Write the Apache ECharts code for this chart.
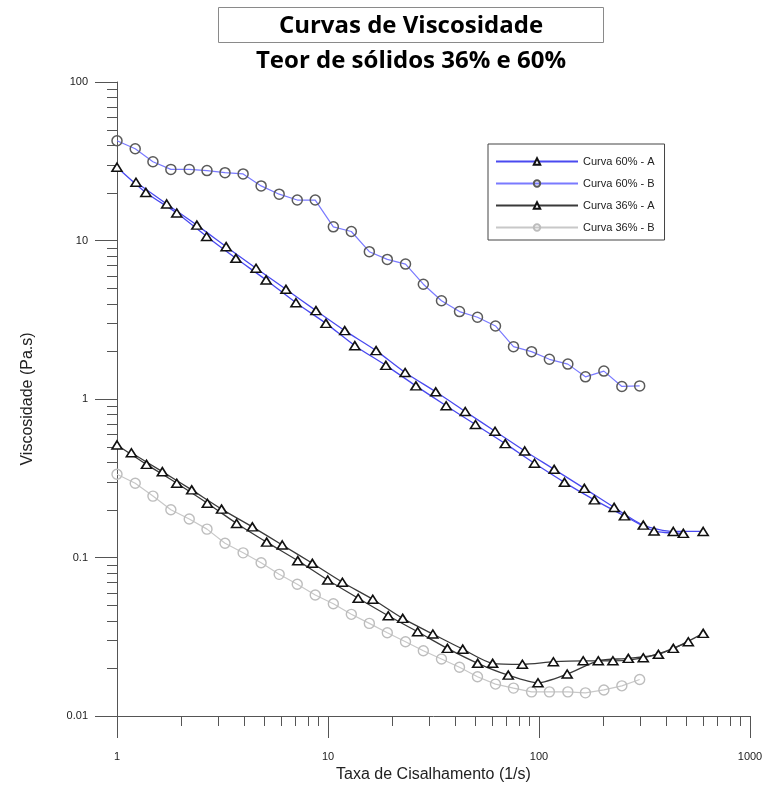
<!DOCTYPE html>
<html>
<head>
<meta charset="utf-8">
<script src="https://cdn.jsdelivr.net/npm/echarts@6/dist/echarts.min.js"></script>
<style>
html,body{margin:0;padding:0;background:#fff;}
#chart{width:768px;height:789px;}
</style>
</head>
<body>
<div id="chart"></div>
<script>
// ---------------- data ----------------
const titleMain = 'Curvas de Viscosidade';
const titleSub = 'Teor de sólidos 36% e 60%';
const xAxisName = 'Taxa de Cisalhamento (1/s)';
const yAxisName = 'Viscosidade (Pa.s)';
const seriesNames = ['Curva 60% - A', 'Curva 60% - B', 'Curva 36% - A', 'Curva 36% - B'];

const xTickLabels = ['1', '10', '100', '1000'];
const yTickLabels = ['0.01', '0.1', '1', '10', '100'];
const xMinorTicks = [2,3,4,5,6,7,8,9,20,30,40,50,60,70,80,90,200,300,400,500,600,700,800,900];
const yMinorTicks = [0.02,0.03,0.04,0.05,0.06,0.07,0.08,0.09,0.2,0.3,0.4,0.5,0.6,0.7,0.8,0.9,2,3,4,5,6,7,8,9,20,30,40,50,60,70,80,90];

// Curva 60% - A (two ramps)
const rate60A_1 = [1, 1.37, 1.92, 2.66, 3.66, 5.09, 7.05, 9.78, 13.4, 18.8, 26.1, 36.3, 50.0, 69.2, 95.2, 132, 183, 254, 351, 483];
const visc60A_1 = [29.0, 20.1, 14.9, 10.6, 7.72, 5.64, 4.05, 3.00, 2.17, 1.63, 1.21, 0.906, 0.690, 0.523, 0.393, 0.298, 0.231, 0.183, 0.147, 0.142];
const rate60A_2 = [1.23, 1.72, 2.39, 3.29, 4.56, 6.32, 8.77, 12.0, 16.9, 23.2, 32.4, 44.7, 61.9, 85.6, 118, 164, 227, 312, 433, 600];
const visc60A_2 = [23.3, 17.0, 12.5, 9.14, 6.68, 4.92, 3.61, 2.70, 2.02, 1.47, 1.11, 0.834, 0.626, 0.470, 0.360, 0.273, 0.207, 0.160, 0.146, 0.146];

// Curva 60% - B and 36% - B (same shear rates)
const rateB = [1, 1.22, 1.48, 1.80, 2.20, 2.67, 3.25, 3.96, 4.82, 5.87, 7.15, 8.70, 10.6, 12.9, 15.7, 19.1, 23.3, 28.3, 34.5, 42.0, 51.1, 62.2, 75.7, 92.2, 112, 137, 166, 203, 247, 300];
const visc60B = [42.6, 37.9, 31.4, 28.1, 28.1, 27.6, 26.8, 26.3, 22.1, 19.6, 18.0, 18.0, 12.2, 11.4, 8.5, 7.6, 7.1, 5.3, 4.17, 3.56, 3.28, 2.89, 2.14, 1.99, 1.78, 1.66, 1.38, 1.50, 1.20, 1.21];
const visc36B = [0.335, 0.294, 0.244, 0.200, 0.175, 0.151, 0.123, 0.107, 0.0927, 0.0783, 0.0678, 0.058, 0.0511, 0.0438, 0.0384, 0.0335, 0.0294, 0.0258, 0.0229, 0.0203, 0.0177, 0.0159, 0.0150, 0.0142, 0.0142, 0.0142, 0.0140, 0.0146, 0.0155, 0.0170];

// Curva 36% - A (two ramps)
const rate36A_1 = [1, 1.38, 1.92, 2.68, 3.69, 5.12, 7.19, 9.97, 13.9, 19.3, 26.6, 36.8, 51.2, 71.5, 98.9, 136, 191, 265, 368, 510];
const visc36A_1 = [0.513, 0.387, 0.294, 0.220, 0.164, 0.125, 0.0955, 0.0721, 0.0553, 0.0429, 0.0340, 0.0267, 0.0215, 0.0181, 0.0162, 0.0184, 0.0223, 0.0231, 0.0245, 0.0294];
const rate36A_2 = [1.17, 1.64, 2.26, 3.13, 4.38, 6.07, 8.43, 11.7, 16.3, 22.6, 31.4, 43.5, 60.3, 83.4, 117, 162, 224, 312, 433, 600];
const visc36A_2 = [0.458, 0.348, 0.267, 0.202, 0.156, 0.120, 0.0919, 0.0698, 0.0545, 0.0413, 0.0329, 0.0264, 0.0215, 0.0212, 0.0220, 0.0223, 0.0223, 0.0233, 0.0267, 0.0332];

// ---------------- chart ----------------
const zip = (xs, ys) => xs.map((x, i) => [x, ys[i]]);
const X_MIN = 1, X_MAX = 1000, Y_MIN = 0.01, Y_MAX = 100;
const FONT = '"Liberation Sans", Arial, sans-serif';

const triStyleA60 = {
  type: 'line', symbol: 'triangle', symbolSize: [10, 8], smooth: 0.25,
  lineStyle: { color: '#4a4af0', width: 1.3 },
  itemStyle: { color: '#ffffff', borderColor: '#111', borderWidth: 1.6 },
  z: 4
};
const triStyleA36 = {
  type: 'line', symbol: 'triangle', symbolSize: [10, 8], smooth: 0.25,
  lineStyle: { color: '#3a3a3a', width: 1.3 },
  itemStyle: { color: '#ffffff', borderColor: '#111', borderWidth: 1.6 },
  z: 4
};

const chart = echarts.init(document.getElementById('chart'), null, { renderer: 'canvas' });
chart.setOption({
  backgroundColor: '#ffffff',
  animation: false,
  grid: { left: 117, right: 18, top: 82, bottom: 73, containLabel: false },
  graphic: [
    { type: 'rect', shape: { x: 218.5, y: 7.5, width: 385, height: 35 }, style: { fill: '#fff', stroke: '#8a8a8a', lineWidth: 1 }, z: 10 },
    { type: 'text', x: 411, y: 26, style: { text: titleMain, textAlign: 'center', textVerticalAlign: 'middle', font: 'bold 24px "Open Sans", sans-serif', fill: '#000' }, z: 11 },
    { type: 'text', x: 411, y: 61, style: { text: titleSub, textAlign: 'center', textVerticalAlign: 'middle', font: 'bold 24px "Open Sans", sans-serif', fill: '#000' }, z: 11 }
  ],
  legend: {
    data: seriesNames,
    orient: 'vertical',
    left: 488, top: 144,
    padding: [12, 10, 7, 7],
    itemWidth: 82, itemHeight: 8, itemGap: 11,
    borderColor: '#444', borderWidth: 1,
    backgroundColor: '#fff',
    textStyle: { fontFamily: FONT, fontSize: 11, color: '#222' }
  },
  xAxis: {
    type: 'log', logBase: 10, min: X_MIN, max: X_MAX,
    name: xAxisName, nameLocation: 'middle', nameGap: 51,
    nameTextStyle: { fontFamily: FONT, fontSize: 16, color: '#222' },
    axisLine: { show: true, lineStyle: { color: '#555', width: 1 } },
    axisTick: { show: true, length: 22, lineStyle: { color: '#555' } },
    axisLabel: { margin: 35, fontFamily: FONT, fontSize: 11, color: '#222',
      formatter: (v, i) => xTickLabels[i] !== undefined ? xTickLabels[i] : '' },
    splitLine: { show: false }, minorTick: { show: false }
  },
  yAxis: {
    type: 'log', logBase: 10, min: Y_MIN, max: Y_MAX,
    name: yAxisName, nameLocation: 'middle', nameGap: 81,
    nameTextStyle: { fontFamily: FONT, fontSize: 16, color: '#222' },
    axisLine: { show: true, lineStyle: { color: '#555', width: 1 } },
    axisTick: { show: true, length: 22, lineStyle: { color: '#555' } },
    axisLabel: { margin: 29, fontFamily: FONT, fontSize: 11, color: '#222',
      formatter: (v, i) => yTickLabels[i] !== undefined ? yTickLabels[i] : '' },
    splitLine: { show: false }, minorTick: { show: false }
  },
  series: [
    Object.assign({ name: seriesNames[0], data: zip(rate60A_1, visc60A_1) }, triStyleA60),
    Object.assign({ name: seriesNames[0], data: zip(rate60A_2, visc60A_2) }, triStyleA60),
    {
      name: seriesNames[1], type: 'line', data: zip(rateB, visc60B),
      symbol: 'circle', symbolSize: 10,
      lineStyle: { color: '#7a7aff', width: 1.2 },
      itemStyle: { color: 'rgba(255,255,255,0)', borderColor: '#5a5a5a', borderWidth: 1.5 },
      z: 3
    },
    Object.assign({ name: seriesNames[2], data: zip(rate36A_1, visc36A_1) }, triStyleA36),
    Object.assign({ name: seriesNames[2], data: zip(rate36A_2, visc36A_2) }, triStyleA36),
    {
      name: seriesNames[3], type: 'line', data: zip(rateB, visc36B),
      symbol: 'circle', symbolSize: 10,
      lineStyle: { color: '#c8c8c8', width: 1.2 },
      itemStyle: { color: 'rgba(255,255,255,0)', borderColor: '#bdbdbd', borderWidth: 1.4 },
      z: 2
    },
    {
      name: 'xMinor', type: 'custom', silent: true, clip: false, legendHoverLink: false,
      data: xMinorTicks.map(v => [v, Y_MIN]),
      renderItem: (params, api) => {
        const p = api.coord([api.value(0), api.value(1)]);
        const x = Math.round(p[0]) + 0.5, y = Math.round(p[1]);
        return { type: 'line', shape: { x1: x, y1: y, x2: x, y2: y + 10 }, style: { stroke: '#555', lineWidth: 1 } };
      }
    },
    {
      name: 'yMinor', type: 'custom', silent: true, clip: false, legendHoverLink: false,
      data: yMinorTicks.map(v => [X_MIN, v]),
      renderItem: (params, api) => {
        const p = api.coord([api.value(0), api.value(1)]);
        const x = Math.round(p[0]), y = Math.round(p[1]) + 0.5;
        return { type: 'line', shape: { x1: x, y1: y, x2: x - 10, y2: y }, style: { stroke: '#555', lineWidth: 1 } };
      }
    }
  ]
});
</script>
</body>
</html>
